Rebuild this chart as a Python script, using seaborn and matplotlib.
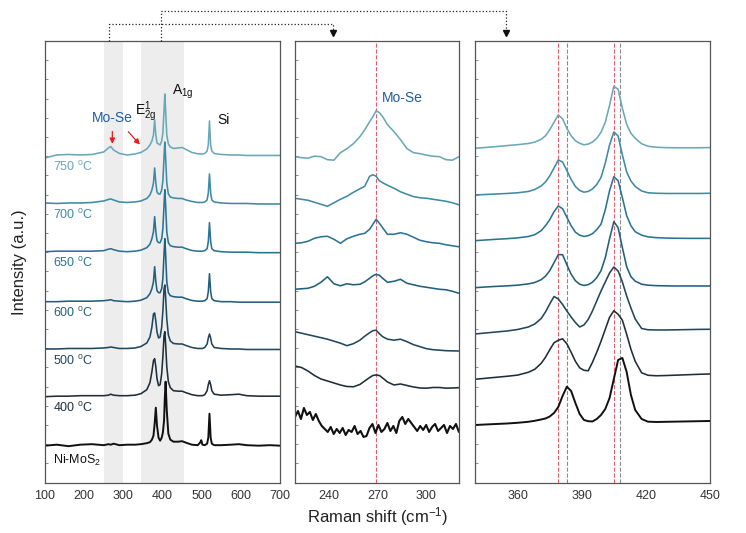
import numpy as np
import matplotlib
matplotlib.use("Agg")
import matplotlib.pyplot as plt
from matplotlib.lines import Line2D
from matplotlib.ticker import MultipleLocator
import seaborn as sns

sns.set_style("white")
plt.rcParams['font.family'] = ['Liberation Sans', 'DejaVu Sans']
plt.rcParams['mathtext.default'] = 'regular'

# samples, bottom to top
samples = ["Ni-MoS$_2$", "400 $^{o}$C", "500 $^{o}$C", "600 $^{o}$C",
           "650 $^{o}$C", "700 $^{o}$C", "750 $^{o}$C"]
colors = ["#111111", "#1e2e3a", "#21475e", "#235f7c",
          "#2a7396", "#3f8aa5", "#6aa8b8"]

# ---- wide range spectra (100-700 cm-1) ----
x_wide = [100, 130, 160, 190, 220, 250, 262, 268, 275, 290,
          310, 330, 345, 360, 368, 373, 377, 380, 383, 386,
          390, 394, 398, 401, 404, 406, 408, 411, 415, 420,
          428, 440, 450, 460, 475, 490, 496, 499, 502, 508,
          514, 517, 520, 523, 526, 532, 550, 575, 595, 615,
          645, 675, 700]
wide_ni = [0.0, 0.1, -0.05, 0.1, 0.15, 0.05, 0.15, 0.1, 0.2, 0.05,
           0.1, 0.1, 0.15, 0.25, 0.35, 0.6, 1.0, 2.2, 3.8, 2.0,
           0.8, 0.5, 0.8, 1.3, 2.5, 4.8, 6.4, 3.5, 1.2, 0.6,
           0.4, 0.4, 0.45, 0.3, 0.1, 0.05, 0.3, 0.55, 0.1, 0.05,
           0.2, 0.8, 3.2, 0.8, 0.2, 0.05, 0.05, 0.1, 0.15, 0.05,
           0.0, 0.05, 0.0]
wide_400 = [0.0, 0.05, 0.05, 0.1, 0.1, 0.1, 0.15, 0.25, 0.15, 0.1,
            0.1, 0.15, 0.3, 0.7, 1.4, 2.5, 3.6, 3.8, 3.0, 1.8,
            1.1, 1.2, 2.3, 4.0, 6.1, 6.5, 5.3, 3.0, 1.5, 0.9,
            0.6, 0.55, 0.55, 0.4, 0.2, 0.1, 0.1, 0.1, 0.1, 0.2,
            0.6, 1.2, 1.6, 1.2, 0.6, 0.25, 0.15, 0.2, 0.25, 0.1,
            0.05, 0.05, 0.05]
wide_500 = [0.0, 0.0, 0.05, 0.05, 0.05, 0.1, 0.15, 0.2, 0.15, 0.05,
            0.05, 0.1, 0.25, 0.6, 1.2, 2.2, 3.5, 3.6, 2.8, 1.7,
            1.1, 1.2, 2.2, 3.8, 6.0, 6.4, 5.2, 3.0, 1.4, 0.8,
            0.55, 0.5, 0.5, 0.35, 0.15, 0.05, 0.05, 0.05, 0.05, 0.15,
            0.5, 1.1, 1.5, 1.1, 0.5, 0.15, 0.05, 0.0, 0.0, -0.05,
            -0.05, -0.05, -0.05]
wide_600 = [0.0, 0.0, 0.05, 0.05, 0.05, 0.1, 0.15, 0.2, 0.1, 0.05,
            0.0, 0.05, 0.15, 0.4, 0.8, 1.3, 2.0, 3.5, 2.0, 1.1,
            0.9, 0.9, 1.3, 2.3, 4.8, 6.3, 4.8, 2.0, 0.9, 0.6,
            0.5, 0.45, 0.45, 0.3, 0.12, 0.05, 0.05, 0.05, 0.05, 0.1,
            0.3, 1.0, 2.8, 1.0, 0.3, 0.1, 0.0, 0.0, -0.05, -0.05,
            -0.05, -0.05, -0.05]
wide_650 = [0.0, 0.05, 0.05, 0.05, 0.05, 0.1, 0.25, 0.3, 0.2, 0.05,
            0.0, 0.05, 0.15, 0.4, 0.75, 1.3, 2.0, 3.5, 2.0, 1.1,
            0.9, 0.9, 1.3, 2.3, 4.7, 6.2, 4.7, 2.0, 0.9, 0.6,
            0.5, 0.45, 0.45, 0.3, 0.12, 0.05, 0.05, 0.05, 0.05, 0.1,
            0.3, 1.0, 2.9, 1.0, 0.3, 0.1, 0.0, -0.05, -0.05, -0.05,
            -0.1, -0.1, -0.1]
wide_700 = [0.0, -0.05, 0.0, 0.0, 0.05, 0.2, 0.35, 0.4, 0.3, 0.1,
            0.05, 0.1, 0.2, 0.45, 0.8, 1.3, 2.0, 3.5, 2.0, 1.1,
            0.9, 0.9, 1.3, 2.2, 4.6, 6.1, 4.6, 2.0, 0.9, 0.6,
            0.5, 0.45, 0.45, 0.3, 0.15, 0.05, 0.05, 0.05, 0.05, 0.1,
            0.3, 1.0, 2.9, 1.0, 0.3, 0.1, 0.0, -0.05, -0.05, -0.05,
            -0.1, -0.1, -0.1]
wide_750 = [-0.3, 0.0, 0.05, 0.0, 0.05, 0.3, 0.7, 0.85, 0.5, 0.15,
            0.0, 0.1, 0.25, 0.6, 1.0, 1.4, 2.0, 3.5, 2.0, 1.2,
            1.1, 1.0, 1.4, 2.2, 4.5, 6.1, 4.5, 2.0, 1.1, 0.8,
            0.65, 0.7, 0.75, 0.55, 0.25, 0.12, 0.1, 0.1, 0.1, 0.15,
            0.4, 1.0, 3.4, 1.0, 0.4, 0.15, 0.05, 0.0, 0.0, -0.05,
            -0.05, -0.05, -0.05]
wide_offsets = [3.7, 8.6, 13.37, 18.1, 23.1, 27.97, 32.77]

# ---- Mo-Se region (219-320 cm-1) ----
x_mid = [219, 223, 227, 231, 235, 239, 243, 247, 251, 255,
         259, 262, 265, 267, 269, 271, 273, 276, 280, 284,
         288, 292, 296, 300, 304, 308, 312, 316, 320]
mid_ni = [1.3, 1.9, 1.1, 2.2, 1.5, 1.8, 1.0, 1.6, 0.9, 0.4,
          0.1, -0.2, 0.3, -0.4, 0.1, -0.3, 0.2, -0.5, 0.0, -0.2,
          0.4, -0.4, -0.1, -0.7, -0.6, 0.2, 0.6, -0.3, 0.5, -0.2,
          0.1, 0.7, -0.1, 0.4, -0.3, 0.9, 1.3, 0.6, 1.1, 0.7,
          0.3, -0.1, 0.4, 0.0, 0.5, -0.2, 0.3, 0.6, -0.1, 0.2,
          0.5, -0.3, 0.4, 0.1, 0.6, -0.2]
mid_400 = [0.0, -0.15, -0.5, -0.95, -1.3, -1.5, -1.7, -1.9, -2.05, -2.08,
           -1.85, -1.5, -1.15, -0.95, -0.9, -0.95, -1.2, -1.6, -1.9, -1.8,
           -1.95, -2.1, -2.2, -2.22, -2.15, -2.15, -2.22, -2.2, -2.17]
mid_500 = [0.0, -0.15, -0.3, -0.45, -0.6, -0.75, -0.95, -1.15, -1.4, -1.2,
           -0.85, -0.45, -0.1, 0.1, 0.15, -0.2, -0.5, -0.75, -0.85, -0.75,
           -1.0, -1.3, -1.5, -1.7, -1.8, -1.85, -1.9, -1.92, -1.93]
mid_600 = [0.0, 0.05, 0.1, 0.3, 0.7, 1.25, 0.55, 0.35, 0.55, 0.45,
           0.5, 0.75, 1.1, 1.35, 1.5, 1.4, 1.1, 0.7, 0.8, 1.0,
           0.6, 0.45, 0.3, 0.2, 0.1, 0.0, -0.05, -0.2, -0.4]
mid_650 = [0.0, 0.05, 0.2, 0.5, 0.65, 0.7, 0.4, 0.0, 0.45, 0.7,
           0.9, 1.0, 1.4, 1.9, 2.4, 2.0, 1.55, 0.9, 0.9, 1.05,
           0.9, 0.6, 0.3, 0.15, 0.05, 0.0, -0.15, -0.25, -0.35]
mid_700 = [0.0, -0.1, -0.2, -0.4, -0.6, -0.8, -0.45, -0.1, 0.2, 0.6,
           0.95, 1.2, 2.2, 2.35, 2.2, 1.75, 1.55, 1.3, 1.0, 0.65,
           0.4, 0.17, 0.05, 0.0, -0.1, -0.2, -0.3, -0.45, -0.65]
mid_750 = [0.0, -0.1, -0.15, 0.05, 0.0, -0.3, -0.35, 0.4, 0.8, 1.3,
           2.0, 2.7, 3.5, 4.0, 4.6, 4.4, 4.0, 3.2, 2.5, 1.7,
           0.8, 0.4, 0.3, 0.15, 0.05, 0.0, -0.3, -0.35, 0.0]
mid_offsets = [5.27, 11.67, 15.1, 19.34, 23.94, 28.44, 32.6]

# ---- E2g / A1g region (340-450 cm-1) ----
x_narrow = [340, 345, 350, 355, 360, 365, 368, 371, 373, 375,
            377, 379, 381, 383, 385, 387, 389, 391, 393, 395,
            397, 399, 401, 403, 405, 407, 409, 411, 413, 415,
            418, 421, 425, 430, 435, 440, 445, 450]
narrow_ni = [0.0, 0.05, 0.1, 0.15, 0.22, 0.32, 0.42, 0.55, 0.65, 0.85,
             1.2, 1.8, 2.9, 3.83, 3.4, 2.2, 1.1, 0.5, 0.38, 0.35,
             0.6, 1.0, 1.6, 2.7, 4.6, 6.5, 6.7, 5.3, 3.0, 1.5,
             0.6, 0.33, 0.3, 0.32, 0.34, 0.36, 0.38, 0.4]
narrow_400 = [0.0, 0.1, 0.2, 0.3, 0.42, 0.7, 1.0, 1.6, 2.2, 2.95,
              3.65, 3.9, 4.05, 3.55, 2.7, 1.8, 1.15, 0.9, 0.85, 1.7,
              2.7, 3.8, 5.0, 6.2, 6.85, 6.5, 5.9, 4.5, 3.0, 1.8,
              0.65, 0.4, 0.35, 0.38, 0.42, 0.46, 0.5, 0.53]
narrow_500 = [0.0, 0.1, 0.2, 0.3, 0.45, 0.7, 1.0, 1.55, 2.2, 3.0,
              3.75, 3.5, 2.95, 2.3, 1.7, 1.15, 0.7, 0.9, 1.45, 2.3,
              3.3, 4.3, 5.2, 6.1, 6.7, 6.3, 5.2, 3.8, 2.6, 1.5,
              0.55, 0.42, 0.4, 0.4, 0.42, 0.44, 0.46, 0.47]
narrow_600 = [0.0, 0.07, 0.13, 0.18, 0.25, 0.38, 0.52, 0.8, 1.15, 1.7,
              2.5, 3.3, 3.3, 2.3, 1.35, 0.7, 0.35, 0.22, 0.3, 0.55,
              1.0, 1.7, 3.0, 4.9, 6.6, 6.0, 4.0, 2.1, 1.1, 0.65,
              0.35, 0.25, 0.2, 0.18, 0.17, 0.17, 0.17, 0.17]
narrow_650 = [0.0, 0.07, 0.14, 0.2, 0.28, 0.42, 0.6, 1.0, 1.5, 2.1,
              2.9, 3.47, 3.2, 2.35, 1.5, 0.85, 0.55, 0.42, 0.5, 0.7,
              1.1, 1.65, 3.1, 5.0, 6.4, 6.0, 4.3, 2.5, 1.5, 0.9,
              0.55, 0.38, 0.3, 0.26, 0.24, 0.23, 0.23, 0.23]
narrow_700 = [0.0, 0.05, 0.1, 0.15, 0.22, 0.35, 0.55, 0.9, 1.3, 1.9,
              2.7, 3.5, 3.3, 2.45, 1.55, 0.85, 0.45, 0.28, 0.35, 0.6,
              1.05, 1.75, 3.2, 5.0, 6.3, 5.9, 4.0, 2.3, 1.4, 0.85,
              0.4, 0.22, 0.17, 0.15, 0.15, 0.15, 0.15, 0.17]
narrow_750 = [0.0, 0.08, 0.17, 0.27, 0.36, 0.48, 0.62, 0.9, 1.25, 1.85,
              2.6, 3.33, 2.95, 2.0, 1.25, 0.75, 0.5, 0.35, 0.42, 0.62,
              1.0, 1.6, 2.6, 4.3, 6.2, 5.9, 4.0, 2.4, 1.5, 1.0,
              0.45, 0.2, 0.1, 0.06, 0.05, 0.05, 0.05, 0.07]
narrow_offsets = [5.77, 10.34, 14.87, 19.5, 24.2, 28.77, 33.44]

# reference peak positions
mose_line = [269]
red_lines = [379, 405]
gray_lines = [383, 408]

wide = [wide_ni, wide_400, wide_500, wide_600, wide_650, wide_700, wide_750]
mid = [mid_ni, mid_400, mid_500, mid_600, mid_650, mid_700, mid_750]
narrow = [narrow_ni, narrow_400, narrow_500, narrow_600, narrow_650, narrow_700, narrow_750]

fig = plt.figure(figsize=(7.46, 5.33), dpi=100)
ax1 = fig.add_axes([0.0603, 0.0944, 0.3150, 0.8293])
ax2 = fig.add_axes([0.3954, 0.0944, 0.2198, 0.8293])
ax3 = fig.add_axes([0.6367, 0.0944, 0.3150, 0.8293])

# left panel
ax1.axvspan(250, 300, color="#ededed", lw=0, zorder=0)
ax1.axvspan(345, 455, color="#ededed", lw=0, zorder=0)
for i in range(7):
    lw = 1.4 if i == 0 else 1.15
    sns.lineplot(x=x_wide, y=np.array(wide[i]) + wide_offsets[i], ax=ax1,
                 color=colors[i], lw=lw, sort=False)
    dy = 1.45 if i == 0 else 1.15
    ax1.text(120, wide_offsets[i] - dy, samples[i], color=colors[i],
             fontsize=9, va="center", ha="left")

ax1.text(271, 36.47, "Mo-Se", color="#1f5fa0", fontsize=10, ha="center", va="center")
ax1.text(357, 37.07, "E$^{1}_{2g}$", color="#111111", fontsize=10, ha="center", va="center")
ax1.text(452, 39.07, "A$_{1g}$", color="#111111", fontsize=10, ha="center", va="center")
ax1.text(557, 36.27, "Si", color="#111111", fontsize=10, ha="center", va="center")
arrow = dict(arrowstyle="-|>", color="#e52020", lw=0.9, mutation_scale=8)
ax1.annotate("", xy=(272, 33.6), xytext=(272, 35.4), arrowprops=arrow)
ax1.annotate("", xy=(347, 33.6), xytext=(308, 35.3), arrowprops=arrow)
ax1.set_xlim(100, 700)
ax1.xaxis.set_major_locator(MultipleLocator(100))
ax1.xaxis.set_minor_locator(MultipleLocator(50))

# middle panel
for i in range(7):
    xs = np.linspace(219, 320, len(mid_ni)) if i == 0 else x_mid
    lw = 1.5 if i == 0 else 1.15
    sns.lineplot(x=xs, y=np.array(mid[i]) + mid_offsets[i], ax=ax2,
                 color=colors[i], lw=lw, sort=False)
for v in mose_line:
    ax2.axvline(v, color="#e0606e", ls="--", lw=0.8, zorder=0)
ax2.text(272.5, 38.5, "Mo-Se", color="#1f5fa0", fontsize=10, ha="left", va="center")
ax2.set_xlim(219, 320)
ax2.set_xticks([240, 270, 300])
ax2.xaxis.set_minor_locator(MultipleLocator(15))

# right panel
for i in range(7):
    lw = 1.4 if i == 0 else 1.15
    sns.lineplot(x=x_narrow, y=np.array(narrow[i]) + narrow_offsets[i], ax=ax3,
                 color=colors[i], lw=lw, sort=False)
for v in red_lines:
    ax3.axvline(v, color="#e0606e", ls="--", lw=0.8, zorder=0)
for v in gray_lines:
    ax3.axvline(v, color="#8a8a8a", ls="--", lw=0.8, zorder=0)
ax3.set_xlim(340, 450)
ax3.set_xticks([360, 390, 420, 450])
ax3.xaxis.set_minor_locator(MultipleLocator(15))

for ax in (ax1, ax2, ax3):
    ax.set_ylim(0, 44.2)
    ax.set_yticks(np.arange(0, 44.2, 1.92))
    ax.set_yticklabels([])
    ax.set_xlabel("")
    ax.set_ylabel("")
    for s in ax.spines.values():
        s.set_color("#555555")
        s.set_linewidth(0.9)
    ax.tick_params(axis="x", which="major", direction="in", length=3.5,
                   width=0.8, color="#555555", labelsize=9, labelcolor="#333333", pad=5)
    ax.tick_params(axis="x", which="minor", direction="in", length=2,
                   width=0.7, color="#555555")
    ax.tick_params(axis="y", which="major", direction="in", length=2,
                   width=0.6, color="#777777", left=True)

fig.text(378 / 746, 1 - 517 / 533, "Raman shift (cm$^{-1}$)", fontsize=12,
         ha="center", va="center", color="#222222")
fig.text(20 / 746, 1 - 262 / 533, "Intensity (a.u.)", fontsize=12,
         ha="center", va="center", rotation=90, color="#222222")

# dotted connectors between panels
def fx(px):
    return px / 746

def fy(py):
    return 1 - py / 533

fig.add_artist(Line2D([fx(109.3), fx(109.3), fx(333.3), fx(333.3)],
                      [fy(40.7), fy(24), fy(24), fy(30)],
                      transform=fig.transFigure, ls=":", color="#222222", lw=0.9))
fig.add_artist(Line2D([fx(160.7), fx(160.7), fx(506), fx(506)],
                      [fy(40.7), fy(10.7), fy(10.7), fy(30)],
                      transform=fig.transFigure, ls=":", color="#222222", lw=0.9))
fig.add_artist(Line2D([fx(333.3), fx(506)], [fy(32.5), fy(32.5)], ls="none",
                      marker="v", markersize=5, color="#111111",
                      transform=fig.transFigure))

fig.savefig("out.png", dpi=100)
